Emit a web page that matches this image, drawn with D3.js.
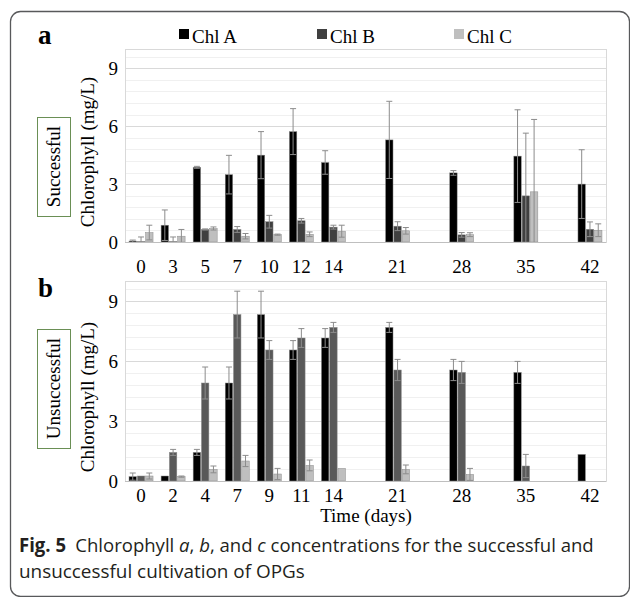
<!DOCTYPE html>
<html>
<head>
<meta charset="utf-8">
<script src="https://cdn.jsdelivr.net/npm/d3@7"></script>
<style>
  body { margin: 0; background: #fff; }
  svg { display: block; }
</style>
</head>
<body>
<div id="chart-container"></div>
<script>
// x slots: empty slots between the later days keep the uneven spacing of the original
const slotsA = ["0", "3", "5", "7", "10", "12", "14", "_1", "21", "_2", "28", "_3", "35", "_4", "42"];
const slotsB = ["0", "2", "4", "7", "9", "11", "14", "_1", "21", "_2", "28", "_3", "35", "_4", "42"];
const daysA = ["0", "3", "5", "7", "10", "12", "14", "21", "28", "35", "42"];
const daysB = ["0", "2", "4", "7", "9", "11", "14", "21", "28", "35", "42"];
const yTicks = [0, 3, 6, 9];
const seriesNames = ["Chl A", "Chl B", "Chl C"];

// panel a - successful
const aChlA    = [0.05, 0.87, 3.87, 3.49, 4.50, 5.72, 4.12, 5.29, 3.58, 4.45, 3.00];
const aChlAErr = [0.05, 0.79, 0.05, 1.00, 1.22, 1.19, 0.61, 2.00, 0.12, 2.40, 1.78];
const aChlB    = [0.02, 0.02, 0.65, 0.65, 1.05, 1.10, 0.77, 0.82, 0.37, 2.39, 0.66];
const aChlBErr = [0.24, 0.24, 0.03, 0.15, 0.33, 0.12, 0.10, 0.23, 0.12, 3.25, 0.38];
const aChlC    = [0.49, 0.30, 0.70, 0.30, 0.38, 0.40, 0.56, 0.58, 0.38, 2.60, 0.61];
const aChlCErr = [0.38, 0.35, 0.08, 0.14, 0.03, 0.12, 0.31, 0.17, 0.10, 3.75, 0.33];

// panel b - unsuccessful
const bChlA    = [0.22, 0.25, 1.43, 4.90, 8.32, 6.55, 7.15, 7.68, 5.55, 5.43, 1.33];
const bChlAErr = [0.18, 0, 0.15, 0.80, 1.17, 0.47, 0.47, 0.25, 0.53, 0.55, 0];
const bChlB    = [0.25, 1.43, 4.90, 8.32, 6.55, 7.15, 7.68, 5.55, 5.43, 0.75, null];
const bChlBErr = [0, 0.15, 0.80, 1.17, 0.47, 0.47, 0.25, 0.53, 0.55, 0.58, 0];
const bChlC    = [0.25, 0.22, 0.58, 1.00, 0.35, 0.78, 0.63, 0.58, 0.33, null, null];
const bChlCErr = [0.15, 0.03, 0.17, 0.28, 0.28, 0.27, 0, 0.22, 0.30, 0, 0];

const W = 630, H = 597;
const serif = "'Liberation Serif', 'Times New Roman', serif";

const svg = d3.select("#chart-container")
  .append("svg")
  .attr("width", W)
  .attr("height", H);

// outer rounded frame (right/bottom edges sit at the picture edge)
svg.append("rect")
  .attr("x", 10.5).attr("y", 11.5)
  .attr("width", 619).attr("height", 585)
  .attr("rx", 10).attr("ry", 10)
  .attr("fill", "none")
  .attr("stroke", "#58595b")
  .attr("stroke-width", 1.3);

// legend
const legendX = [179, 317, 454];
const legendColors = ["#000000", "#404040", "#bfbfbf"];
seriesNames.forEach((name, i) => {
  svg.append("rect")
    .attr("x", legendX[i]).attr("y", 29)
    .attr("width", 10).attr("height", 10)
    .attr("fill", legendColors[i]);
  svg.append("text")
    .attr("x", legendX[i] + 13).attr("y", 43)
    .attr("font-family", serif)
    .attr("font-size", 19)
    .text(name);
});

function drawPanel(opts) {
  const { slots, days, series, top, bottom, colors, letter, letterY,
          boxTop, boxBottom, boxText, titleY, xLabelY } = opts;
  const left = 125, right = 606;

  const x = d3.scaleBand().domain(slots).range([left, right]).padding(0);
  const y = d3.scaleLinear().domain([0, 10]).range([bottom, top]);
  const inner = d3.scaleBand().domain([0, 1, 2]).range([-12, 12]).paddingInner(0.1);

  const g = svg.append("g");

  // minor gridlines every 0.6
  const minor = d3.range(1, 17).map(k => k * 0.6).filter(v => v % 3 > 0.01 && 3 - (v % 3) > 0.01);
  g.selectAll(".minor")
    .data(minor)
    .join("line")
    .attr("x1", left).attr("x2", right)
    .attr("y1", d => Math.round(y(d)) + 0.5)
    .attr("y2", d => Math.round(y(d)) + 0.5)
    .attr("stroke", "#f0f0f0")
    .attr("stroke-width", 1);

  // major gridlines
  g.selectAll(".major")
    .data(yTicks.slice(1))
    .join("line")
    .attr("x1", left).attr("x2", right)
    .attr("y1", d => Math.round(y(d)) + 0.5)
    .attr("y2", d => Math.round(y(d)) + 0.5)
    .attr("stroke", "#d9d9d9")
    .attr("stroke-width", 1);

  // plot frame
  g.append("rect")
    .attr("x", left + 0.5).attr("y", top + 0.5)
    .attr("width", right - left).attr("height", bottom - top)
    .attr("fill", "none")
    .attr("stroke", "#d9d9d9");

  // y axis labels
  const yAxis = g.append("g")
    .attr("transform", `translate(${left - 7},0)`)
    .call(d3.axisLeft(y).tickValues(yTicks).tickSize(0).tickPadding(0));
  yAxis.select(".domain").remove();
  yAxis.selectAll(".tick text")
    .attr("font-family", serif)
    .attr("font-size", 19)
    .attr("fill", "#000");

  // x axis labels (only for real days)
  const xAxis = g.append("g")
    .attr("transform", `translate(0,${xLabelY})`)
    .call(d3.axisBottom(x).tickValues(days).tickSize(0).tickPadding(0));
  xAxis.select(".domain").remove();
  xAxis.selectAll(".tick text")
    .attr("font-family", serif)
    .attr("font-size", 19)
    .attr("fill", "#000")
    .attr("dy", 0);

  // bars
  series.forEach((s, si) => {
    const rows = days.map((d, i) => ({ day: d, v: s.values[i], e: s.errs[i] }))
      .filter(r => r.v != null);
    const cx = d => x(d.day) + x.bandwidth() / 2 + inner(si);

    g.selectAll(".bar" + si)
      .data(rows)
      .join("rect")
      .attr("x", d => cx(d))
      .attr("width", inner.bandwidth())
      .attr("y", d => y(d.v))
      .attr("height", d => y(0) - y(d.v))
      .attr("fill", colors[si])
      .attr("stroke", "#8c8c8c")
      .attr("stroke-width", 0.5);

    const errRows = rows.filter(r => r.e > 0);
    const mid = d => cx(d) + inner.bandwidth() / 2;
    const errColor = "#8c8c8c";
    g.selectAll(".err" + si)
      .data(errRows)
      .join("line")
      .attr("x1", mid).attr("x2", mid)
      .attr("y1", d => y(Math.max(0, d.v - d.e)))
      .attr("y2", d => y(d.v + d.e))
      .attr("stroke", errColor)
      .attr("stroke-width", 1);
    g.selectAll(".capTop" + si)
      .data(errRows)
      .join("line")
      .attr("x1", d => mid(d) - 3).attr("x2", d => mid(d) + 3)
      .attr("y1", d => y(d.v + d.e)).attr("y2", d => y(d.v + d.e))
      .attr("stroke", errColor)
      .attr("stroke-width", 1);
    g.selectAll(".capBot" + si)
      .data(errRows.filter(d => d.v - d.e > 0))
      .join("line")
      .attr("x1", d => mid(d) - 3).attr("x2", d => mid(d) + 3)
      .attr("y1", d => y(d.v - d.e)).attr("y2", d => y(d.v - d.e))
      .attr("stroke", errColor)
      .attr("stroke-width", 1);
  });

  // baseline axis
  g.append("line")
    .attr("x1", left).attr("x2", right)
    .attr("y1", bottom + 0.5).attr("y2", bottom + 0.5)
    .attr("stroke", "#bfbfbf");

  // panel letter
  svg.append("text")
    .attr("x", 38).attr("y", letterY)
    .attr("font-family", serif)
    .attr("font-weight", "bold")
    .attr("font-size", 27)
    .text(letter);

  // y axis title
  svg.append("text")
    .attr("transform", `translate(94,${titleY}) rotate(-90)`)
    .attr("text-anchor", "middle")
    .attr("font-family", serif)
    .attr("font-size", 19)
    .text("Chlorophyll (mg/L)");

  // outcome box
  svg.append("rect")
    .attr("x", 37.5).attr("y", boxTop + 0.5)
    .attr("width", 33).attr("height", boxBottom - boxTop)
    .attr("fill", "#fff")
    .attr("stroke", "#6a8f55")
    .attr("stroke-width", 1);
  svg.append("text")
    .attr("transform", `translate(60,${(boxTop + boxBottom) / 2}) rotate(-90)`)
    .attr("text-anchor", "middle")
    .attr("font-family", serif)
    .attr("font-size", 19)
    .text(boxText);
}

drawPanel({
  slots: slotsA, days: daysA,
  series: [
    { values: aChlA, errs: aChlAErr },
    { values: aChlB, errs: aChlBErr },
    { values: aChlC, errs: aChlCErr }
  ],
  colors: ["#000000", "#404040", "#bfbfbf"],
  top: 49, bottom: 242,
  letter: "a", letterY: 44,
  boxTop: 117, boxBottom: 216, boxText: "Successful",
  titleY: 152, xLabelY: 273
});

drawPanel({
  slots: slotsB, days: daysB,
  series: [
    { values: bChlA, errs: bChlAErr },
    { values: bChlB, errs: bChlBErr },
    { values: bChlC, errs: bChlCErr }
  ],
  colors: ["#000000", "#595959", "#bfbfbf"],
  top: 281, bottom: 481,
  letter: "b", letterY: 297,
  boxTop: 329, boxBottom: 448, boxText: "Unsuccessful",
  titleY: 397, xLabelY: 502
});

// x axis title
svg.append("text")
  .attr("x", 366).attr("y", 522)
  .attr("text-anchor", "middle")
  .attr("font-family", serif)
  .attr("font-size", 19)
  .text("Time (days)");

// caption: a sans font squeezed horizontally to the width of the original lines
const sans = "'Open Sans', 'Noto Sans', sans-serif";
function captionLine(y, targetWidth, build) {
  const t = svg.append("text")
    .attr("font-family", sans)
    .attr("font-size", 19)
    .attr("fill", "#231f20");
  build(t);
  const w = t.node().getComputedTextLength();
  const sx = targetWidth / w;
  t.attr("transform", `translate(19,${y}) scale(${sx},1)`);
}
captionLine(552, 575, t => {
  t.append("tspan").attr("font-weight", "bold").text("Fig. 5");
  t.append("tspan").text("\u2002Chlorophyll ");
  t.append("tspan").attr("font-style", "italic").text("a");
  t.append("tspan").text(", ");
  t.append("tspan").attr("font-style", "italic").text("b");
  t.append("tspan").text(", and ");
  t.append("tspan").attr("font-style", "italic").text("c");
  t.append("tspan").text(" concentrations for the successful and");
});
captionLine(578, 286, t => {
  t.text("unsuccessful cultivation of OPGs");
});
</script>
</body>
</html>
